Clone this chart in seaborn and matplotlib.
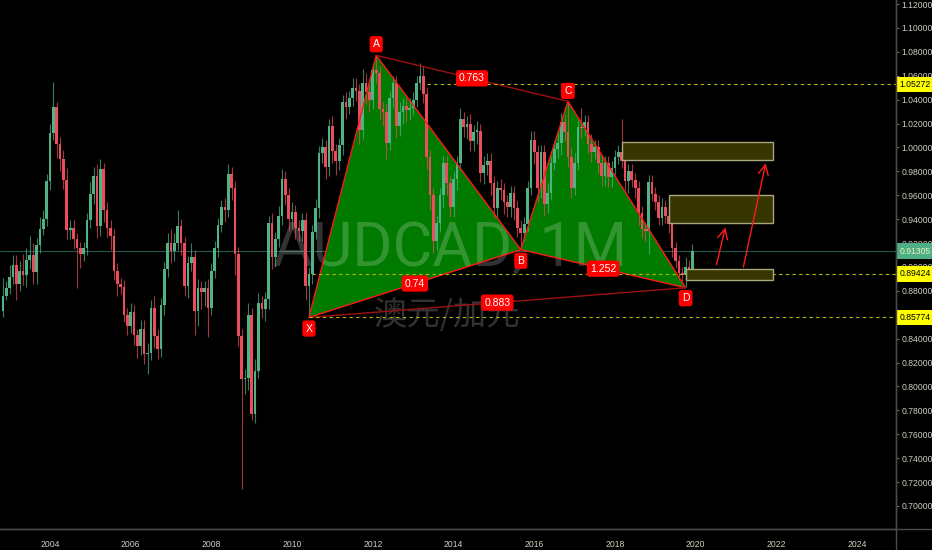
import numpy as np
import pandas as pd
import seaborn as sns
import matplotlib.pyplot as plt
from matplotlib.patches import Polygon, Rectangle
from matplotlib.lines import Line2D

# monthly AUDCAD candles, first month 2002-11
first_month = '2002-11'
open0 = 0.863
closes = [
    0.876, 0.882, 0.892, 0.902, 0.886, 0.897, 0.893, 0.906, 0.910, 0.896,
    0.918, 0.932, 0.940, 0.972, 1.012, 1.034, 1.003, 0.990, 0.973, 0.931,
    0.933, 0.923, 0.916, 0.911, 0.916, 0.939, 0.961, 0.976, 0.934, 0.982,
    0.948, 0.933, 0.926, 0.897, 0.886, 0.883, 0.860, 0.851, 0.862, 0.843,
    0.834, 0.848, 0.827, 0.828, 0.866, 0.842, 0.831, 0.868, 0.898, 0.920,
    0.913, 0.920, 0.934, 0.920, 0.884, 0.903, 0.908, 0.863, 0.882, 0.879,
    0.882, 0.866, 0.897, 0.916, 0.935, 0.950, 0.948, 0.978, 0.966, 0.911,
    0.842, 0.806, 0.807, 0.860, 0.777, 0.813, 0.870, 0.865, 0.873, 0.937,
    0.908, 0.923, 0.943, 0.974, 0.960, 0.940, 0.946, 0.933, 0.930, 0.939,
    0.884, 0.894, 0.929, 0.949, 0.995, 1.000, 0.984, 1.018, 0.997, 0.989,
    1.002, 1.038, 1.034, 1.041, 1.050, 1.047, 1.015, 1.054, 1.046, 1.040,
    1.065, 1.062, 1.032, 1.030, 1.004, 1.041, 1.054, 1.018, 1.030, 1.035,
    1.031, 1.033, 1.040, 1.054, 1.060, 1.045, 0.992, 0.960, 0.922, 0.937,
    0.960, 0.987, 0.970, 0.950, 0.974, 0.987, 1.024, 1.017, 1.020, 1.005,
    1.013, 1.014, 0.979, 0.985, 0.989, 0.970, 0.949, 0.966, 0.964, 0.954,
    0.950, 0.962, 0.949, 0.933, 0.928, 0.936, 0.966, 1.006, 0.996, 0.966,
    0.996, 0.953, 0.962, 0.987, 0.999, 1.004, 1.021, 1.013, 0.992, 0.966,
    0.987, 1.017, 1.016, 1.021, 1.003, 0.996, 1.000, 0.987, 0.976, 0.987,
    0.975, 0.983, 0.992, 0.996, 0.989, 0.972, 0.980, 0.973, 0.966, 0.945,
    0.932, 0.930, 0.971, 0.961, 0.954, 0.941, 0.950, 0.943, 0.936, 0.916,
    0.905, 0.895, 0.893, 0.900, 0.898, 0.91305,
]
# wick lengths above / below the body, in thousandths
up_wick = [
    15, 6, 10, 8, 8, 8, 14, 10, 16, 10,
    6, 10, 8, 6, 8, 21, 4, 6, 8, 10,
    6, 6, 5, 5, 5, 6, 10, 8, 10, 8,
    5, 6, 6, 6, 6, 5, 6, 6, 8, 6,
    5, 8, 8, 8, 6, 10, 6, 6, 6, 8,
    12, 8, 14, 6, 5, 6, 12, 6, 8, 6,
    6, 8, 6, 6, 6, 6, 8, 8, 6, 6,
    6, 6, 8, 10, 6, 10, 8, 6, 6, 6,
    8, 6, 8, 8, 6, 6, 8, 6, 6, 6,
    6, 6, 6, 8, 6, 8, 6, 6, 8, 6,
    6, 6, 8, 6, 8, 8, 6, 12, 8, 6,
    6, 12, 6, 6, 6, 6, 6, 6, 8, 6,
    6, 8, 6, 6, 11, 8, 6, 6, 6, 6,
    6, 6, 6, 6, 6, 6, 9, 6, 6, 8,
    6, 8, 6, 8, 6, 6, 6, 6, 8, 6,
    6, 6, 6, 6, 6, 6, 6, 8, 8, 6,
    6, 6, 8, 6, 6, 8, 8, 6, 26, 8,
    8, 6, 16, 6, 6, 8, 6, 6, 6, 6,
    6, 6, 6, 6, 28, 6, 6, 6, 6, 6,
    6, 6, 6, 6, 6, 6, 8, 6, 6, 6,
    5, 5, 5, 8, 6, 6,
]
dn_wick = [
    5, 4, 5, 6, 14, 6, 8, 10, 8, 10,
    10, 6, 5, 6, 8, 6, 12, 10, 8, 8,
    8, 8, 34, 12, 6, 6, 6, 8, 10, 8,
    10, 8, 12, 8, 10, 6, 6, 8, 6, 8,
    10, 8, 8, 17, 6, 10, 8, 6, 8, 6,
    10, 8, 6, 10, 8, 10, 6, 20, 12, 14,
    12, 25, 6, 6, 8, 6, 10, 6, 10, 18,
    8, 92, 12, 10, 5, 8, 6, 8, 10, 8,
    10, 8, 6, 8, 8, 10, 8, 10, 8, 8,
    12, 26, 8, 6, 8, 8, 10, 8, 10, 12,
    8, 8, 10, 6, 6, 8, 12, 8, 10, 10,
    8, 8, 8, 12, 14, 6, 8, 10, 8, 10,
    10, 8, 6, 6, 6, 8, 10, 12, 10, 8,
    8, 10, 10, 8, 8, 10, 6, 8, 10, 8,
    8, 10, 8, 10, 8, 10, 8, 8, 8, 10,
    8, 8, 10, 8, 14, 6, 6, 6, 10, 12,
    8, 10, 8, 6, 6, 8, 10, 8, 8, 8,
    6, 6, 8, 6, 8, 8, 6, 8, 8, 8,
    8, 8, 6, 6, 6, 8, 10, 6, 8, 10,
    8, 8, 19, 6, 6, 6, 6, 6, 8, 8,
    6, 6, 6, 10, 6, 4,
]

# XABCD pattern
pat_names = ['X', 'A', 'B', 'C', 'D']
pat_months = ['2010-06', '2012-02', '2015-09', '2016-11', '2019-10']
pat_prices = [0.85774, 1.0771, 0.9145, 1.0386, 0.8826]
ratio_pairs = [('X', 'B'), ('A', 'C'), ('B', 'D'), ('X', 'D')]
ratio_labels = ['0.74', '0.763', '1.252', '0.883']

# target zones
zone_start = ['2018-03', '2019-05', '2019-10']
zone_end = ['2021-12', '2021-12', '2021-12']
zone_top = [1.0045, 0.9606, 0.8986]
zone_bottom = [0.9897, 0.9371, 0.8894]

# arrows: (month, price) start -> end
arrow_from = [('2020-07', 0.8997), ('2021-03', 0.8977)]
arrow_to = [('2020-10', 0.9353), ('2021-10', 0.9891)]

# horizontal levels
level_prices = [1.05272, 0.89424, 0.85774]
level_start = ['2013-05', '2010-07', '2010-06']
last_price = 0.91305

years = list(range(2004, 2025, 2))
price_ticks = [round(0.70 + 0.02 * k, 2) for k in range(22)]

sns.set_theme(style='dark', rc={
    'axes.facecolor': 'black', 'figure.facecolor': 'black',
    'axes.edgecolor': '#4a4a4a', 'grid.color': 'black',
})
plt.rcParams['font.family'] = ['Liberation Sans', 'DejaVu Sans']

base = pd.Period(first_month, freq='M')


def mi(m):
    return (pd.Period(m, freq='M') - base).n


n = len(closes)
x = np.arange(n)
c = np.array(closes)
o = np.r_[open0, c[:-1]]
hi = np.maximum(o, c) + np.array(up_wick) / 1000
lo = np.minimum(o, c) - np.array(dn_wick) / 1000
up = c >= o

fig = plt.figure(figsize=(9.32, 5.5), dpi=100)
ax = fig.add_axes([0, 21 / 550, 896 / 932, 529 / 550])
ax.set_facecolor('black')
ax.set_xlim(-0.862, 265.56)
ax.set_ylim(0.6807, 1.1234)

UP, DN = '#4fb386', '#eb4d5c'

# last price line
ax.axhline(last_price, color='#23594a', lw=0.8, zorder=1)

# watermark
ax.text(133, 0.9011, 'AUDCAD, 1M', ha='center', va='baseline', fontsize=44,
        color='white', alpha=0.2, family=['Roboto', 'DejaVu Sans'],
        zorder=3)
ax.text(132, 0.8592, '澳元/加元', ha='center', va='center', fontsize=24,
        color='white', alpha=0.2, family=['Noto Sans CJK SC', 'DejaVu Sans'],
        weight='light', zorder=3)

# pattern fill
px = [mi(m) for m in pat_months]
pos = dict(zip(pat_names, zip(px, pat_prices)))
for tri in (['X', 'A', 'B'], ['B', 'C', 'D']):
    ax.add_patch(Polygon([pos[k] for k in tri], closed=True, fc='#008000',
                         ec='none', alpha=0.97, zorder=2))

# candles
ax.vlines(x[up], lo[up], hi[up], color=UP, lw=0.8, alpha=0.7, zorder=4)
ax.vlines(x[~up], lo[~up], hi[~up], color=DN, lw=0.8, alpha=0.7, zorder=4)
body = np.maximum(np.abs(c - o), 0.0012)
ax.bar(x[up], body[up], bottom=np.minimum(o, c)[up], width=0.8, color=UP,
       lw=0, zorder=5)
ax.bar(x[~up], body[~up], bottom=np.minimum(o, c)[~up], width=0.8, color=DN,
       lw=0, zorder=5)

# pattern lines
sns.lineplot(x=px, y=pat_prices, sort=False, estimator=None, color='#ff1a1a',
             lw=1, ax=ax, zorder=6)
for a, b in [('X', 'B'), ('B', 'D')]:
    ax.plot([pos[a][0], pos[b][0]], [pos[a][1], pos[b][1]], color='#ff1a1a',
            lw=1, zorder=6)
for a, b in [('A', 'C'), ('X', 'D')]:
    ax.plot([pos[a][0], pos[b][0]], [pos[a][1], pos[b][1]], color='#a01010',
            lw=1, zorder=6)

# dashed levels
for p, s in zip(level_prices, level_start):
    ax.plot([mi(s), 265.56], [p, p], color='#b8b800', lw=0.8,
            dashes=(3, 3), zorder=6)

# zones
for s, e, t, b in zip(zone_start, zone_end, zone_top, zone_bottom):
    ax.add_patch(Rectangle((mi(s), b), mi(e) - mi(s), t - b, fc='#383600',
                           ec='#a8a67e', lw=1, zorder=6))

# arrows
for (m0, p0), (m1, p1) in zip(arrow_from, arrow_to):
    ax.annotate('', xy=(mi(m1), p1), xytext=(mi(m0), p0),
                arrowprops=dict(arrowstyle='->,head_length=0.6,head_width=0.3',
                                color='#ff1a1a', lw=1), zorder=7)

# point and ratio labels
offsets = {'X': -8, 'A': 8, 'B': -8, 'C': 7.5, 'D': -7.5}
for k in pat_names:
    ax.annotate(k, xy=pos[k], xytext=(0, offsets[k]), textcoords='offset points',
                ha='center', va='center', color='white', fontsize=7.5,
                bbox=dict(boxstyle='round,pad=0.3,rounding_size=0.25',
                          fc='#ff0000', ec='none'), zorder=9)
for (a, b), lab in zip(ratio_pairs, ratio_labels):
    mx = (pos[a][0] + pos[b][0]) / 2
    my = (pos[a][1] + pos[b][1]) / 2
    ax.text(mx, my, lab, ha='center', va='center', color='white', fontsize=7.5,
            bbox=dict(boxstyle='round,pad=0.3,rounding_size=0.25',
                      fc='#ff0000', ec='none'), zorder=9)

# axes styling
for s in ['top', 'left']:
    ax.spines[s].set_visible(False)
for s in ['right', 'bottom']:
    ax.spines[s].set_color('#4a4a4a')
    ax.spines[s].set_linewidth(1)
ax.grid(False)
ax.yaxis.tick_right()
ax.set_yticks(price_ticks)
ax.set_yticklabels([f'{p:.5f}' for p in price_ticks])
ax.set_xticks([mi(f'{y}-01') for y in years])
ax.set_xticklabels([str(y) for y in years])
ax.tick_params(axis='both', colors='#6a6a6a', labelcolor='#cfcfc0',
               labelsize=6.2, length=3, width=0.8, direction='out')
ax.tick_params(axis='y', pad=1.5, length=2.5)
ax.tick_params(axis='x', pad=5)
ax.set_xlabel('')
ax.set_ylabel('')

# right-axis price tags
tag_style = [(1.05272, '#ffff00', 'black'), (last_price, '#4caf86', '#f4f0c0'),
             (0.89424, '#ffff00', 'black'), (0.85774, '#ffff00', 'black')]
for p, fc, tc in tag_style:
    ax.text(1.0035, p, f'{p:.5f}', transform=ax.get_yaxis_transform(),
            ha='left', va='center', fontsize=6.2, color=tc, clip_on=False,
            bbox=dict(boxstyle='square,pad=0.4', fc=fc, ec='none'), zorder=10)

fig.add_artist(Line2D([0, 1], [21 / 550, 21 / 550], color='#4a4a4a', lw=1))
fig.add_artist(Line2D([896 / 932, 896 / 932], [0, 1], color='#4a4a4a', lw=1))

fig.savefig('out.png', dpi=100, facecolor='black')
